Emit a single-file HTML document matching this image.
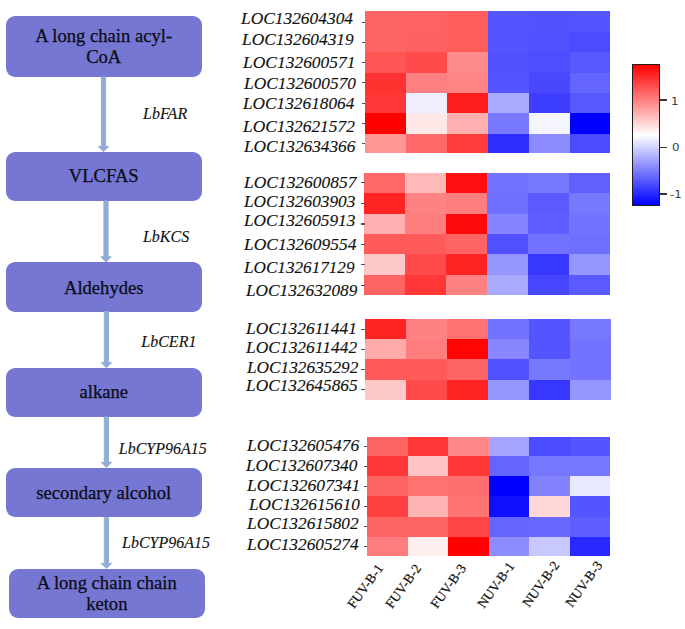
<!DOCTYPE html>
<html><head><meta charset="utf-8"><title>Wax biosynthesis pathway heatmap</title>
<style>
html,body{margin:0;padding:0;background:#fff;}
body{width:685px;height:629px;position:relative;overflow:hidden;font-family:"Liberation Serif","DejaVu Serif",serif;color:#111;}
.box{position:absolute;background:#7676D3;border-radius:9px;}
.bt{position:absolute;font-size:18.6px;-webkit-text-stroke:0.25px #0c0c14;line-height:20px;white-space:nowrap;text-align:center;color:#0c0c14;}
.gene{position:absolute;-webkit-text-stroke:0.1px #111;font-style:italic;font-size:16px;line-height:20px;white-space:nowrap;color:#111;}
.loc{position:absolute;-webkit-text-stroke:0.12px #111;font-style:italic;font-size:16.5px;line-height:20px;white-space:nowrap;color:#111;transform-origin:0 0;}
.cell{position:absolute;}
.tick{position:absolute;height:1.2px;background:#505050;}
.xl{position:absolute;-webkit-text-stroke:0.2px #111;font-size:13.5px;line-height:16px;white-space:nowrap;color:#111;transform-origin:100% 50%;}
.cbt{position:absolute;font-family:"DejaVu Sans","Liberation Sans",sans-serif;font-size:10.5px;line-height:12px;color:#3a3a3a;white-space:nowrap;}
svg{position:absolute;left:0;top:0;}
</style></head><body>

<div class="box" style="left:5.8px;top:16px;width:195.9px;height:61.1px"></div>
<div class="bt" style="left:5.8px;top:25.63px;width:195.9px">A long chain acyl-</div>
<div class="bt" style="left:5.8px;top:46.93px;width:195.9px">CoA</div>
<div class="box" style="left:5.8px;top:151.8px;width:195.9px;height:49.4px"></div>
<div class="bt" style="left:5.8px;top:166.33px;width:195.9px">VLCFAS</div>
<div class="box" style="left:5.8px;top:262.3px;width:195.9px;height:49.4px"></div>
<div class="bt" style="left:5.8px;top:277.93px;width:195.9px">Aldehydes</div>
<div class="box" style="left:5.8px;top:368.1px;width:195.9px;height:49.2px"></div>
<div class="bt" style="left:5.8px;top:381.83px;width:195.9px">alkane</div>
<div class="box" style="left:5.8px;top:467.8px;width:195.9px;height:49.7px"></div>
<div class="bt" style="left:5.8px;top:482.83px;width:195.9px">secondary alcohol</div>
<div class="box" style="left:9px;top:569px;width:195.6px;height:49.4px"></div>
<div class="bt" style="left:9px;top:572.83px;width:195.6px">A long chain chain</div>
<div class="bt" style="left:9px;top:593.73px;width:195.6px">keton</div>
<svg width="685" height="629" viewBox="0 0 685 629">
<polygon points="101.4,77.0 105.6,77.0 105.6,146.5 108.7,146.5 103.5,151.6 98.3,146.5 101.4,146.5" fill="#97A9DA" stroke="#8DB3CF" stroke-width="1" stroke-linejoin="miter"/>
<polygon points="103.9,201.0 108.1,201.0 108.1,256.8 111.2,256.8 106.0,261.9 100.8,256.8 103.9,256.8" fill="#97A9DA" stroke="#8DB3CF" stroke-width="1" stroke-linejoin="miter"/>
<polygon points="104.3,311.5 108.5,311.5 108.5,362.6 111.6,362.6 106.4,367.7 101.2,362.6 104.3,362.6" fill="#97A9DA" stroke="#8DB3CF" stroke-width="1" stroke-linejoin="miter"/>
<polygon points="104.3,417.0 108.5,417.0 108.5,462.3 111.6,462.3 106.4,467.4 101.2,462.3 104.3,462.3" fill="#97A9DA" stroke="#8DB3CF" stroke-width="1" stroke-linejoin="miter"/>
<polygon points="104.3,517.3 108.5,517.3 108.5,563.4 111.6,563.4 106.4,568.5 101.2,563.4 104.3,563.4" fill="#97A9DA" stroke="#8DB3CF" stroke-width="1" stroke-linejoin="miter"/>
</svg>
<div class="gene" style="left:143px;top:103.99px">LbFAR</div>
<div class="gene" style="left:142.9px;top:227.19px">LbKCS</div>
<div class="gene" style="left:141.3px;top:331.79px">LbCER1</div>
<div class="gene" style="left:118.8px;top:438.59px">LbCYP96A15</div>
<div class="gene" style="left:122px;top:532.59px">LbCYP96A15</div>
<div class="cell" style="left:365.00px;top:10.70px;width:41.20px;height:22.00px;background:rgb(255,100,100)"></div>
<div class="cell" style="left:405.90px;top:10.70px;width:41.20px;height:22.00px;background:rgb(255,98,98)"></div>
<div class="cell" style="left:446.80px;top:10.70px;width:41.20px;height:22.00px;background:rgb(255,92,92)"></div>
<div class="cell" style="left:487.70px;top:10.70px;width:41.20px;height:22.00px;background:rgb(85,85,255)"></div>
<div class="cell" style="left:528.60px;top:10.70px;width:41.20px;height:22.00px;background:rgb(82,82,255)"></div>
<div class="cell" style="left:569.50px;top:10.70px;width:40.90px;height:22.00px;background:rgb(85,85,255)"></div>
<div class="tick" style="left:361.7px;top:21.90px;width:3.5px"></div>
<div class="cell" style="left:365.00px;top:32.40px;width:41.20px;height:20.10px;background:rgb(255,100,100)"></div>
<div class="cell" style="left:405.90px;top:32.40px;width:41.20px;height:20.10px;background:rgb(255,96,96)"></div>
<div class="cell" style="left:446.80px;top:32.40px;width:41.20px;height:20.10px;background:rgb(255,92,92)"></div>
<div class="cell" style="left:487.70px;top:32.40px;width:41.20px;height:20.10px;background:rgb(85,85,255)"></div>
<div class="cell" style="left:528.60px;top:32.40px;width:41.20px;height:20.10px;background:rgb(80,80,255)"></div>
<div class="cell" style="left:569.50px;top:32.40px;width:40.90px;height:20.10px;background:rgb(75,75,255)"></div>
<div class="tick" style="left:361.7px;top:41.90px;width:3.5px"></div>
<div class="cell" style="left:365.00px;top:52.20px;width:41.20px;height:20.90px;background:rgb(255,85,85)"></div>
<div class="cell" style="left:405.90px;top:52.20px;width:41.20px;height:20.90px;background:rgb(255,75,75)"></div>
<div class="cell" style="left:446.80px;top:52.20px;width:41.20px;height:20.90px;background:rgb(255,140,140)"></div>
<div class="cell" style="left:487.70px;top:52.20px;width:41.20px;height:20.90px;background:rgb(82,82,255)"></div>
<div class="cell" style="left:528.60px;top:52.20px;width:41.20px;height:20.90px;background:rgb(78,78,255)"></div>
<div class="cell" style="left:569.50px;top:52.20px;width:40.90px;height:20.90px;background:rgb(88,88,255)"></div>
<div class="tick" style="left:361.7px;top:61.90px;width:3.5px"></div>
<div class="cell" style="left:365.00px;top:72.80px;width:41.20px;height:20.50px;background:rgb(255,50,50)"></div>
<div class="cell" style="left:405.90px;top:72.80px;width:41.20px;height:20.50px;background:rgb(255,128,128)"></div>
<div class="cell" style="left:446.80px;top:72.80px;width:41.20px;height:20.50px;background:rgb(255,133,133)"></div>
<div class="cell" style="left:487.70px;top:72.80px;width:41.20px;height:20.50px;background:rgb(85,85,255)"></div>
<div class="cell" style="left:528.60px;top:72.80px;width:41.20px;height:20.50px;background:rgb(72,72,255)"></div>
<div class="cell" style="left:569.50px;top:72.80px;width:40.90px;height:20.50px;background:rgb(100,100,255)"></div>
<div class="tick" style="left:361.7px;top:82.00px;width:3.5px"></div>
<div class="cell" style="left:365.00px;top:93.00px;width:41.20px;height:20.70px;background:rgb(255,55,55)"></div>
<div class="cell" style="left:405.90px;top:93.00px;width:41.20px;height:20.70px;background:rgb(238,238,255)"></div>
<div class="cell" style="left:446.80px;top:93.00px;width:41.20px;height:20.70px;background:rgb(255,30,30)"></div>
<div class="cell" style="left:487.70px;top:93.00px;width:41.20px;height:20.70px;background:rgb(170,170,255)"></div>
<div class="cell" style="left:528.60px;top:93.00px;width:41.20px;height:20.70px;background:rgb(62,62,255)"></div>
<div class="cell" style="left:569.50px;top:93.00px;width:40.90px;height:20.70px;background:rgb(88,88,255)"></div>
<div class="tick" style="left:361.7px;top:102.80px;width:3.5px"></div>
<div class="cell" style="left:365.00px;top:113.40px;width:41.20px;height:20.70px;background:rgb(255,0,0)"></div>
<div class="cell" style="left:405.90px;top:113.40px;width:41.20px;height:20.70px;background:rgb(255,232,232)"></div>
<div class="cell" style="left:446.80px;top:113.40px;width:41.20px;height:20.70px;background:rgb(255,175,175)"></div>
<div class="cell" style="left:487.70px;top:113.40px;width:41.20px;height:20.70px;background:rgb(120,120,255)"></div>
<div class="cell" style="left:528.60px;top:113.40px;width:41.20px;height:20.70px;background:rgb(245,245,255)"></div>
<div class="cell" style="left:569.50px;top:113.40px;width:40.90px;height:20.70px;background:rgb(0,0,255)"></div>
<div class="tick" style="left:361.7px;top:122.50px;width:3.5px"></div>
<div class="cell" style="left:365.00px;top:133.80px;width:41.20px;height:19.60px;background:rgb(255,150,150)"></div>
<div class="cell" style="left:405.90px;top:133.80px;width:41.20px;height:19.60px;background:rgb(255,105,105)"></div>
<div class="cell" style="left:446.80px;top:133.80px;width:41.20px;height:19.60px;background:rgb(255,60,60)"></div>
<div class="cell" style="left:487.70px;top:133.80px;width:41.20px;height:19.60px;background:rgb(45,45,255)"></div>
<div class="cell" style="left:528.60px;top:133.80px;width:41.20px;height:19.60px;background:rgb(140,140,255)"></div>
<div class="cell" style="left:569.50px;top:133.80px;width:40.90px;height:19.60px;background:rgb(75,75,255)"></div>
<div class="tick" style="left:361.7px;top:143.30px;width:3.5px"></div>
<div class="loc" style="left:241.1px;top:8.73px;transform:scaleX(1.0532)">LOC132604304</div>
<div class="loc" style="left:241.5px;top:30.43px;transform:scaleX(1.0494)">LOC132604319</div>
<div class="loc" style="left:243.2px;top:52.53px;transform:scaleX(1.0579)">LOC132600571</div>
<div class="loc" style="left:243.6px;top:74.03px;transform:scaleX(1.0532)">LOC132600570</div>
<div class="loc" style="left:242.8px;top:93.83px;transform:scaleX(1.0466)">LOC132618064</div>
<div class="loc" style="left:242.8px;top:117.33px;transform:scaleX(1.0513)">LOC132621572</div>
<div class="loc" style="left:244.2px;top:137.23px;transform:scaleX(1.0476)">LOC132634366</div>
<div class="cell" style="left:364.40px;top:173.30px;width:41.28px;height:20.40px;background:rgb(255,105,105)"></div>
<div class="cell" style="left:405.38px;top:173.30px;width:41.28px;height:20.40px;background:rgb(255,185,185)"></div>
<div class="cell" style="left:446.37px;top:173.30px;width:41.28px;height:20.40px;background:rgb(255,15,15)"></div>
<div class="cell" style="left:487.35px;top:173.30px;width:41.28px;height:20.40px;background:rgb(115,115,255)"></div>
<div class="cell" style="left:528.33px;top:173.30px;width:41.28px;height:20.40px;background:rgb(120,120,255)"></div>
<div class="cell" style="left:569.32px;top:173.30px;width:40.98px;height:20.40px;background:rgb(96,96,255)"></div>
<div class="tick" style="left:360.8px;top:182.10px;width:3.8px"></div>
<div class="cell" style="left:364.40px;top:193.40px;width:41.28px;height:20.40px;background:rgb(255,35,35)"></div>
<div class="cell" style="left:405.38px;top:193.40px;width:41.28px;height:20.40px;background:rgb(255,130,130)"></div>
<div class="cell" style="left:446.37px;top:193.40px;width:41.28px;height:20.40px;background:rgb(255,125,125)"></div>
<div class="cell" style="left:487.35px;top:193.40px;width:41.28px;height:20.40px;background:rgb(110,110,255)"></div>
<div class="cell" style="left:528.33px;top:193.40px;width:41.28px;height:20.40px;background:rgb(90,90,255)"></div>
<div class="cell" style="left:569.32px;top:193.40px;width:40.98px;height:20.40px;background:rgb(120,120,255)"></div>
<div class="tick" style="left:360.8px;top:202.70px;width:3.8px"></div>
<div class="cell" style="left:364.40px;top:213.50px;width:41.28px;height:20.70px;background:rgb(255,175,175)"></div>
<div class="cell" style="left:405.38px;top:213.50px;width:41.28px;height:20.70px;background:rgb(255,125,125)"></div>
<div class="cell" style="left:446.37px;top:213.50px;width:41.28px;height:20.70px;background:rgb(255,10,10)"></div>
<div class="cell" style="left:487.35px;top:213.50px;width:41.28px;height:20.70px;background:rgb(133,133,255)"></div>
<div class="cell" style="left:528.33px;top:213.50px;width:41.28px;height:20.70px;background:rgb(95,95,255)"></div>
<div class="cell" style="left:569.32px;top:213.50px;width:40.98px;height:20.70px;background:rgb(115,115,255)"></div>
<div class="tick" style="left:360.8px;top:223.40px;width:3.8px"></div>
<div class="cell" style="left:364.40px;top:233.90px;width:41.28px;height:20.40px;background:rgb(255,90,90)"></div>
<div class="cell" style="left:405.38px;top:233.90px;width:41.28px;height:20.40px;background:rgb(255,90,90)"></div>
<div class="cell" style="left:446.37px;top:233.90px;width:41.28px;height:20.40px;background:rgb(255,100,100)"></div>
<div class="cell" style="left:487.35px;top:233.90px;width:41.28px;height:20.40px;background:rgb(80,80,255)"></div>
<div class="cell" style="left:528.33px;top:233.90px;width:41.28px;height:20.40px;background:rgb(115,115,255)"></div>
<div class="cell" style="left:569.32px;top:233.90px;width:40.98px;height:20.40px;background:rgb(110,110,255)"></div>
<div class="tick" style="left:360.8px;top:243.70px;width:3.8px"></div>
<div class="cell" style="left:364.40px;top:254.00px;width:41.28px;height:21.20px;background:rgb(255,200,200)"></div>
<div class="cell" style="left:405.38px;top:254.00px;width:41.28px;height:21.20px;background:rgb(255,75,75)"></div>
<div class="cell" style="left:446.37px;top:254.00px;width:41.28px;height:21.20px;background:rgb(255,35,35)"></div>
<div class="cell" style="left:487.35px;top:254.00px;width:41.28px;height:21.20px;background:rgb(150,150,255)"></div>
<div class="cell" style="left:528.33px;top:254.00px;width:41.28px;height:21.20px;background:rgb(55,55,255)"></div>
<div class="cell" style="left:569.32px;top:254.00px;width:40.98px;height:21.20px;background:rgb(150,150,255)"></div>
<div class="tick" style="left:360.8px;top:263.80px;width:3.8px"></div>
<div class="cell" style="left:364.40px;top:274.90px;width:41.28px;height:20.30px;background:rgb(255,100,100)"></div>
<div class="cell" style="left:405.38px;top:274.90px;width:41.28px;height:20.30px;background:rgb(255,55,55)"></div>
<div class="cell" style="left:446.37px;top:274.90px;width:41.28px;height:20.30px;background:rgb(255,130,130)"></div>
<div class="cell" style="left:487.35px;top:274.90px;width:41.28px;height:20.30px;background:rgb(170,170,255)"></div>
<div class="cell" style="left:528.33px;top:274.90px;width:41.28px;height:20.30px;background:rgb(70,70,255)"></div>
<div class="cell" style="left:569.32px;top:274.90px;width:40.98px;height:20.30px;background:rgb(90,90,255)"></div>
<div class="tick" style="left:360.8px;top:284.50px;width:3.8px"></div>
<div class="loc" style="left:243.9px;top:173.03px;transform:scaleX(1.0570)">LOC132600857</div>
<div class="loc" style="left:243.9px;top:191.93px;transform:scaleX(1.0466)">LOC132603903</div>
<div class="loc" style="left:243.9px;top:211.33px;transform:scaleX(1.0466)">LOC132605913</div>
<div class="loc" style="left:243.9px;top:235.33px;transform:scaleX(1.0570)">LOC132609554</div>
<div class="loc" style="left:243.5px;top:257.63px;transform:scaleX(1.0391)">LOC132617129</div>
<div class="loc" style="left:246.1px;top:281.03px;transform:scaleX(1.0466)">LOC132632089</div>
<div class="cell" style="left:364.50px;top:318.80px;width:41.37px;height:20.20px;background:rgb(255,35,35)"></div>
<div class="cell" style="left:405.57px;top:318.80px;width:41.37px;height:20.20px;background:rgb(255,130,130)"></div>
<div class="cell" style="left:446.63px;top:318.80px;width:41.37px;height:20.20px;background:rgb(255,115,115)"></div>
<div class="cell" style="left:487.70px;top:318.80px;width:41.37px;height:20.20px;background:rgb(115,115,255)"></div>
<div class="cell" style="left:528.77px;top:318.80px;width:41.37px;height:20.20px;background:rgb(85,85,255)"></div>
<div class="cell" style="left:569.83px;top:318.80px;width:41.07px;height:20.20px;background:rgb(120,120,255)"></div>
<div class="tick" style="left:360.7px;top:328.70px;width:3.9px"></div>
<div class="cell" style="left:364.50px;top:338.70px;width:41.37px;height:20.90px;background:rgb(255,170,170)"></div>
<div class="cell" style="left:405.57px;top:338.70px;width:41.37px;height:20.90px;background:rgb(255,125,125)"></div>
<div class="cell" style="left:446.63px;top:338.70px;width:41.37px;height:20.90px;background:rgb(255,5,5)"></div>
<div class="cell" style="left:487.70px;top:338.70px;width:41.37px;height:20.90px;background:rgb(135,135,255)"></div>
<div class="cell" style="left:528.77px;top:338.70px;width:41.37px;height:20.90px;background:rgb(85,85,255)"></div>
<div class="cell" style="left:569.83px;top:338.70px;width:41.07px;height:20.90px;background:rgb(115,115,255)"></div>
<div class="tick" style="left:360.7px;top:348.60px;width:3.9px"></div>
<div class="cell" style="left:364.50px;top:359.30px;width:41.37px;height:20.60px;background:rgb(255,90,90)"></div>
<div class="cell" style="left:405.57px;top:359.30px;width:41.37px;height:20.60px;background:rgb(255,90,90)"></div>
<div class="cell" style="left:446.63px;top:359.30px;width:41.37px;height:20.60px;background:rgb(255,100,100)"></div>
<div class="cell" style="left:487.70px;top:359.30px;width:41.37px;height:20.60px;background:rgb(80,80,255)"></div>
<div class="cell" style="left:528.77px;top:359.30px;width:41.37px;height:20.60px;background:rgb(120,120,255)"></div>
<div class="cell" style="left:569.83px;top:359.30px;width:41.07px;height:20.60px;background:rgb(115,115,255)"></div>
<div class="tick" style="left:360.7px;top:369.00px;width:3.9px"></div>
<div class="cell" style="left:364.50px;top:379.60px;width:41.37px;height:20.30px;background:rgb(255,200,200)"></div>
<div class="cell" style="left:405.57px;top:379.60px;width:41.37px;height:20.30px;background:rgb(255,75,75)"></div>
<div class="cell" style="left:446.63px;top:379.60px;width:41.37px;height:20.30px;background:rgb(255,35,35)"></div>
<div class="cell" style="left:487.70px;top:379.60px;width:41.37px;height:20.30px;background:rgb(150,150,255)"></div>
<div class="cell" style="left:528.77px;top:379.60px;width:41.37px;height:20.30px;background:rgb(55,55,255)"></div>
<div class="cell" style="left:569.83px;top:379.60px;width:41.07px;height:20.30px;background:rgb(150,150,255)"></div>
<div class="tick" style="left:360.7px;top:389.10px;width:3.9px"></div>
<div class="loc" style="left:245.6px;top:318.93px;transform:scaleX(1.0551)">LOC132611441</div>
<div class="loc" style="left:245.6px;top:337.93px;transform:scaleX(1.0570)">LOC132611442</div>
<div class="loc" style="left:247.3px;top:357.83px;transform:scaleX(1.0466)">LOC132635292</div>
<div class="loc" style="left:245.6px;top:376.13px;transform:scaleX(1.0494)">LOC132645865</div>
<div class="cell" style="left:367.00px;top:437.20px;width:40.82px;height:19.00px;background:rgb(255,100,100)"></div>
<div class="cell" style="left:407.52px;top:437.20px;width:40.82px;height:19.00px;background:rgb(255,55,55)"></div>
<div class="cell" style="left:448.03px;top:437.20px;width:40.82px;height:19.00px;background:rgb(255,135,135)"></div>
<div class="cell" style="left:488.55px;top:437.20px;width:40.82px;height:19.00px;background:rgb(165,165,255)"></div>
<div class="cell" style="left:529.07px;top:437.20px;width:40.82px;height:19.00px;background:rgb(75,75,255)"></div>
<div class="cell" style="left:569.58px;top:437.20px;width:40.52px;height:19.00px;background:rgb(85,85,255)"></div>
<div class="tick" style="left:363.8px;top:445.80px;width:3.5px"></div>
<div class="cell" style="left:367.00px;top:455.90px;width:40.82px;height:20.30px;background:rgb(255,55,55)"></div>
<div class="cell" style="left:407.52px;top:455.90px;width:40.82px;height:20.30px;background:rgb(255,195,195)"></div>
<div class="cell" style="left:448.03px;top:455.90px;width:40.82px;height:20.30px;background:rgb(255,55,55)"></div>
<div class="cell" style="left:488.55px;top:455.90px;width:40.82px;height:20.30px;background:rgb(100,100,255)"></div>
<div class="cell" style="left:529.07px;top:455.90px;width:40.82px;height:20.30px;background:rgb(118,118,255)"></div>
<div class="cell" style="left:569.58px;top:455.90px;width:40.52px;height:20.30px;background:rgb(118,118,255)"></div>
<div class="tick" style="left:363.8px;top:465.90px;width:3.5px"></div>
<div class="cell" style="left:367.00px;top:475.90px;width:40.82px;height:20.60px;background:rgb(255,100,100)"></div>
<div class="cell" style="left:407.52px;top:475.90px;width:40.82px;height:20.60px;background:rgb(255,115,115)"></div>
<div class="cell" style="left:448.03px;top:475.90px;width:40.82px;height:20.60px;background:rgb(255,110,110)"></div>
<div class="cell" style="left:488.55px;top:475.90px;width:40.82px;height:20.60px;background:rgb(0,0,255)"></div>
<div class="cell" style="left:529.07px;top:475.90px;width:40.82px;height:20.60px;background:rgb(130,130,255)"></div>
<div class="cell" style="left:569.58px;top:475.90px;width:40.52px;height:20.60px;background:rgb(232,232,255)"></div>
<div class="tick" style="left:363.8px;top:485.90px;width:3.5px"></div>
<div class="cell" style="left:367.00px;top:496.20px;width:40.82px;height:20.60px;background:rgb(255,65,65)"></div>
<div class="cell" style="left:407.52px;top:496.20px;width:40.82px;height:20.60px;background:rgb(255,180,180)"></div>
<div class="cell" style="left:448.03px;top:496.20px;width:40.82px;height:20.60px;background:rgb(255,115,115)"></div>
<div class="cell" style="left:488.55px;top:496.20px;width:40.82px;height:20.60px;background:rgb(16,16,255)"></div>
<div class="cell" style="left:529.07px;top:496.20px;width:40.82px;height:20.60px;background:rgb(255,215,215)"></div>
<div class="cell" style="left:569.58px;top:496.20px;width:40.52px;height:20.60px;background:rgb(85,85,255)"></div>
<div class="tick" style="left:363.8px;top:505.70px;width:3.5px"></div>
<div class="cell" style="left:367.00px;top:516.50px;width:40.82px;height:20.40px;background:rgb(255,100,100)"></div>
<div class="cell" style="left:407.52px;top:516.50px;width:40.82px;height:20.40px;background:rgb(255,100,100)"></div>
<div class="cell" style="left:448.03px;top:516.50px;width:40.82px;height:20.40px;background:rgb(255,70,70)"></div>
<div class="cell" style="left:488.55px;top:516.50px;width:40.82px;height:20.40px;background:rgb(100,100,255)"></div>
<div class="cell" style="left:529.07px;top:516.50px;width:40.82px;height:20.40px;background:rgb(105,105,255)"></div>
<div class="cell" style="left:569.58px;top:516.50px;width:40.52px;height:20.40px;background:rgb(95,95,255)"></div>
<div class="tick" style="left:363.8px;top:525.80px;width:3.5px"></div>
<div class="cell" style="left:367.00px;top:536.60px;width:40.82px;height:19.70px;background:rgb(255,125,125)"></div>
<div class="cell" style="left:407.52px;top:536.60px;width:40.82px;height:19.70px;background:rgb(255,238,238)"></div>
<div class="cell" style="left:448.03px;top:536.60px;width:40.82px;height:19.70px;background:rgb(255,0,0)"></div>
<div class="cell" style="left:488.55px;top:536.60px;width:40.82px;height:19.70px;background:rgb(140,140,255)"></div>
<div class="cell" style="left:529.07px;top:536.60px;width:40.82px;height:19.70px;background:rgb(200,200,255)"></div>
<div class="cell" style="left:569.58px;top:536.60px;width:40.52px;height:19.70px;background:rgb(40,40,255)"></div>
<div class="tick" style="left:363.8px;top:545.80px;width:3.5px"></div>
<div class="loc" style="left:246.9px;top:436.23px;transform:scaleX(1.0541)">LOC132605476</div>
<div class="loc" style="left:245.7px;top:456.03px;transform:scaleX(1.0476)">LOC132607340</div>
<div class="loc" style="left:247.4px;top:475.53px;transform:scaleX(1.0654)">LOC132607341</div>
<div class="loc" style="left:249.3px;top:495.33px;transform:scaleX(1.0429)">LOC132615610</div>
<div class="loc" style="left:247.4px;top:514.43px;transform:scaleX(1.0494)">LOC132615802</div>
<div class="loc" style="left:247.4px;top:534.73px;transform:scaleX(1.0494)">LOC132605274</div>
<div class="xl" style="right:304.1px;top:557.8px;transform:rotate(-54deg)">FUV-B-1</div>
<div class="xl" style="right:266.2px;top:558.0px;transform:rotate(-54deg)">FUV-B-2</div>
<div class="xl" style="right:221.4px;top:558.0px;transform:rotate(-54deg)">FUV-B-3</div>
<div class="xl" style="right:173.7px;top:556.1px;transform:rotate(-54deg)">NUV-B-1</div>
<div class="xl" style="right:128.4px;top:555.0px;transform:rotate(-54deg)">NUV-B-2</div>
<div class="xl" style="right:85.2px;top:554.7px;transform:rotate(-54deg)">NUV-B-3</div>
<div style="position:absolute;left:632px;top:63.8px;width:28.4px;height:142.6px;box-sizing:border-box;border:1px solid #1c1c1c;background:linear-gradient(to bottom,#ff0000 0%,#ffffff 50%,#0000ff 100%)"></div>
<div class="tick" style="left:660px;top:99.25px;width:6.6px;height:1.5px;background:#333"></div>
<div class="cbt" style="left:671.2px;top:95.3px;transform-origin:0 50%;transform:scaleX(1.12)">1</div>
<div class="tick" style="left:660px;top:146.55px;width:6.6px;height:1.5px;background:#333"></div>
<div class="cbt" style="left:672.2px;top:141.3px;transform-origin:0 50%;transform:scaleX(1.12)">0</div>
<div class="tick" style="left:660px;top:193.25px;width:6.6px;height:1.5px;background:#333"></div>
<div class="cbt" style="left:670.2px;top:188.1px;transform-origin:0 50%;transform:scaleX(1.12)">-1</div>
</body></html>
